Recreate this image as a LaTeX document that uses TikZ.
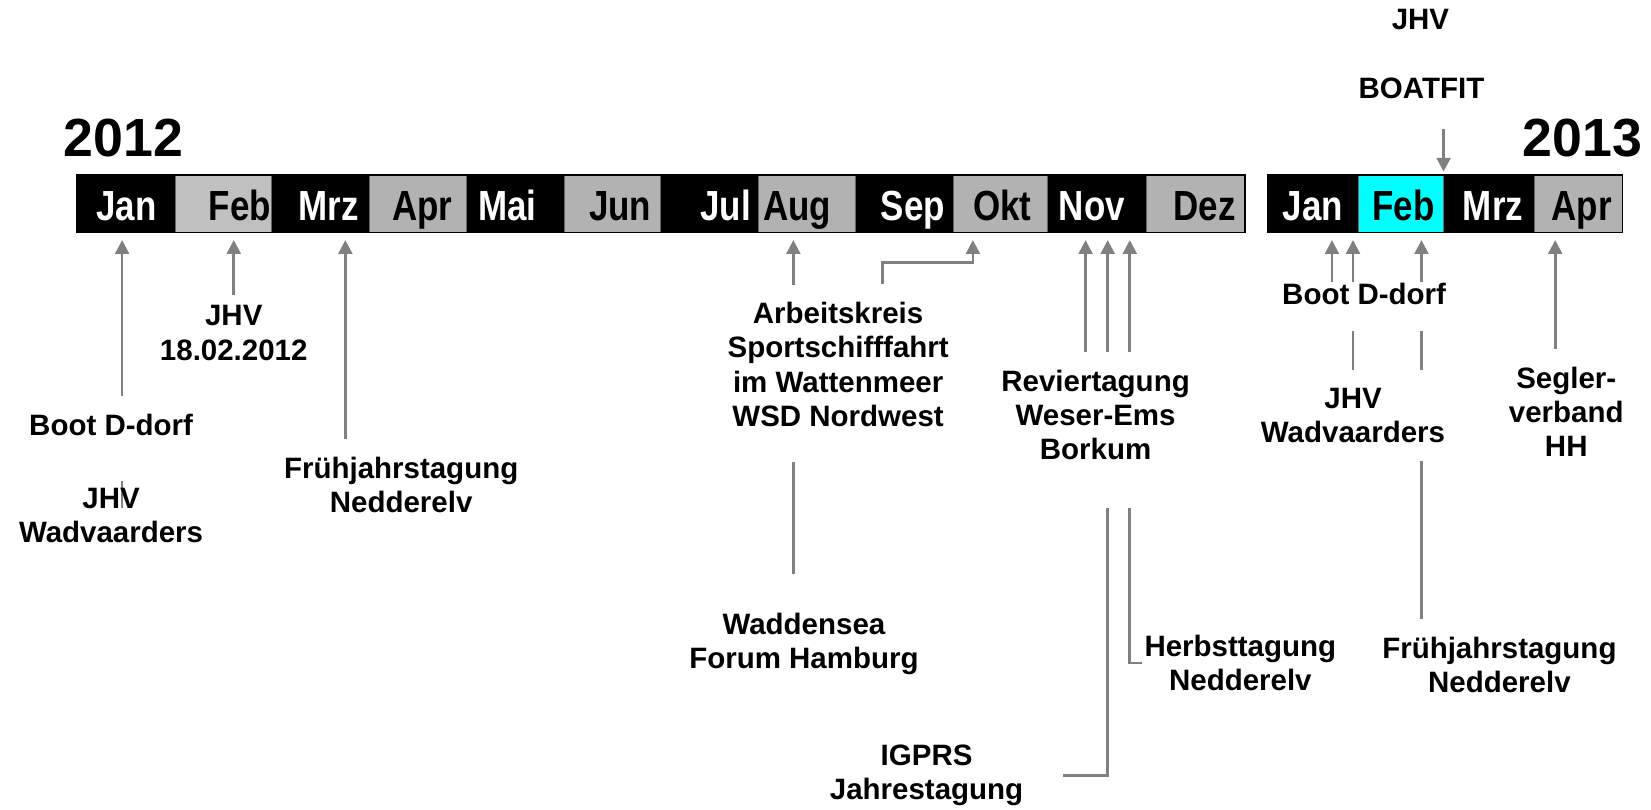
\documentclass[tikz,border=0pt]{standalone}
\usepackage{fontspec}
\setmainfont{Liberation Sans}
\newfontfamily\schmal[FakeStretch=0.83]{Liberation Sans}
\usetikzlibrary{arrows.meta,backgrounds}
\definecolor{pfeilgrau}{RGB}{128,128,128}
\definecolor{monatgrau}{RGB}{178,178,178}
\definecolor{hellgrau}{RGB}{192,192,192}
\definecolor{tuerkis}{RGB}{0,255,255}

\begin{document}
\begin{tikzpicture}[x=1pt,y=-1pt,
	termin/.style={fill=white,align=center,inner xsep=2pt,inner ysep=17pt,font=\fontsize{28}{32.5}\selectfont\bfseries},
	monat/.style={anchor=base,font=\schmal\fontsize{40}{40}\selectfont\bfseries},
	jahr/.style={font=\fontsize{51}{51}\selectfont\bfseries},
	pfeil/.style={draw=pfeilgrau,line width=2.5pt,-{Triangle[width=13pt,length=13pt]}}]
	\useasboundingbox (0,0) rectangle (1568,769);
	\fill (72.5,166) rectangle (1182.5,221);
	\filldraw[fill=hellgrau,draw=black!60] (166,166) rectangle (258,221);
	\filldraw[fill=monatgrau,draw=black!60] (351,166) rectangle (443,221);
	\filldraw[fill=monatgrau,draw=black!60] (535.5,166) rectangle (627,221);
	\filldraw[fill=monatgrau,draw=black!60] (720.5,166) rectangle (812,221);
	\filldraw[fill=monatgrau,draw=black!60] (905,166) rectangle (994.5,221);
	\filldraw[fill=monatgrau,draw=black!60] (1088.5,166) rectangle (1182.5,221);
	\draw[line width=1.5pt] (72.5,166) rectangle (1182.5,221);
	\fill (1204,166) rectangle (1541,221);
	\filldraw[fill=tuerkis,draw=black!60] (1290,166) rectangle (1371,221);
	\filldraw[fill=monatgrau,draw=black!60] (1457,166) rectangle (1541,221);
	\draw[line width=1.5pt] (1204,166) rectangle (1541,221);
	\node[jahr] (j2012) at (117,131) {2012};
	\node[jahr] (j2013) at (1503,131) {2013};
	\node[monat,text=white] (jan12) at (120,209) {Jan};
	\node[monat] (feb12) at (228,209) {Feb};
	\node[monat,text=white] (mrz12) at (312,209) {Mrz};
	\node[monat] (apr12) at (401,209) {Apr};
	\node[monat,text=white] (mai12) at (482,209) {Mai};
	\node[monat] (jun12) at (589,209) {Jun};
	\node[monat,text=white] (jul12) at (689,209) {Jul};
	\node[monat] (aug12) at (757,209) {Aug};
	\node[monat,text=white] (sep12) at (867,209) {Sep};
	\node[monat] (okt12) at (952,209) {Okt};
	\node[monat,text=white] (nov12) at (1037,209) {Nov};
	\node[monat] (dez12) at (1144,209) {Dez};
	\node[monat,text=white] (jan13) at (1247,209) {Jan};
	\node[monat] (feb13) at (1333,209) {Feb};
	\node[monat,text=white] (mrz13) at (1418,209) {Mrz};
	\node[monat] (apr13) at (1502,209) {Apr};
	\coordinate (z-jan12) at (116,228);
	\coordinate (z-feb12) at (222,228);
	\coordinate (z-mrz12) at (328,228);
	\coordinate (z-aug12) at (753.5,228);
	\coordinate (z-okt12) at (924,228);
	\coordinate (z-nov12a) at (1031,228);
	\coordinate (z-nov12b) at (1052,228);
	\coordinate (z-nov12c) at (1073,228);
	\coordinate (z-jan13a) at (1265,228);
	\coordinate (z-jan13b) at (1285,228);
	\coordinate (z-feb13) at (1350,228);
	\coordinate (z-apr13) at (1477,228);
	\coordinate (z-feb13oben) at (1371,163);
	\coordinate (wad12fuss) at (116,482);
	\coordinate (okt-knick) at (838,249);
	\node[termin,anchor=north,inner ysep=10pt] (jhv12) at (222,280) {JHV\\18.02.2012};
	\node[termin,anchor=north,text depth=26pt] (boot12) at (105.5,376) {Boot D-dorf};
	\node[termin,anchor=north,fill=none] (wad12) at (105.5,446) {JHV\\Wadvaarders};
	\node[termin,anchor=north] (frueh12) at (381,417) {Frühjahrstagung\\Nedderelv};
	\node[termin,anchor=north] (arbeit) at (796,270) {Arbeitskreis\\Sportschifffahrt\\im Wattenmeer\\WSD Nordwest\\[-16pt]\mbox{}};
	\node[termin,anchor=north,inner ysep=37pt] (wadden) at (763.5,545) {Waddensea\\Forum Hamburg};
	\node[termin,anchor=north] (revier) at (1040.5,334) {Reviertagung\\Weser-Ems\\Borkum\\[-4pt]\mbox{}};
	\node[termin,anchor=north] (herbst) at (1178,586) {Herbsttagung\\Nedderelv};
	\node[termin,anchor=north,inner xsep=38pt] (igprs) at (880,690.5) {IGPRS\\Jahrestagung};
	\node[termin] (jhv13) at (1349,18.5) {JHV};
	\node[termin,inner ysep=28pt] (boatfit) at (1350,84) {BOATFIT};
	\node[termin,anchor=north,inner ysep=1pt,text depth=24pt] (boot13) at (1295.5,267.5) {Boot D-dorf};
	\node[termin,anchor=north] (wad13) at (1285,351.5) {JHV\\Wadvaarders};
	\node[termin,anchor=north] (segler) at (1487.5,331.5) {Segler-\\verband\\HH};
	\node[termin,anchor=north] (frueh13) at (1424,588) {Frühjahrstagung\\Nedderelv};
	\begin{scope}[on background layer]
		\draw[pfeil] (wad12fuss) -- (z-jan12);
		\draw[pfeil] (jhv12.north) -- (z-feb12);
		\draw[pfeil] (frueh12.north -| z-mrz12) -- (z-mrz12);
		\draw[pfeil] (wadden.north -| z-aug12) -- (z-aug12);
		\draw[pfeil] (arbeit.north -| okt-knick) -- (okt-knick) -| (z-okt12);
		\draw[pfeil] (revier.north -| z-nov12a) -- (z-nov12a);
		\draw[pfeil] (igprs.east) -| (z-nov12b);
		\draw[pfeil] (herbst.west) -| (z-nov12c);
		\draw[pfeil] (boot13.north -| z-jan13a) -- (z-jan13a);
		\draw[pfeil] (wad13.north -| z-jan13b) -- (z-jan13b);
		\draw[pfeil] (frueh13.north -| z-feb13) -- (z-feb13);
		\draw[pfeil] (segler.north -| z-apr13) -- (z-apr13);
		\draw[pfeil] (boatfit.south -| z-feb13oben) -- (z-feb13oben);
	\end{scope}
\end{tikzpicture}
\end{document}
